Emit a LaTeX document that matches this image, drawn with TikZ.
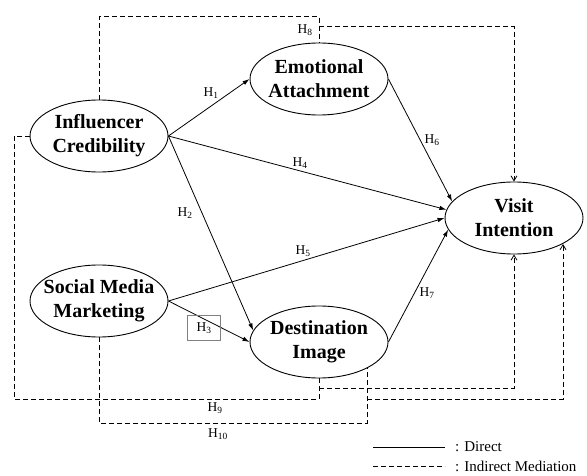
\documentclass[tikz,border=0pt]{standalone}
\usepackage{fontspec}
\setmainfont{Liberation Serif}
\usetikzlibrary{arrows.meta, shapes.geometric, calc}

\begin{document}
\begin{tikzpicture}[
  x=1pt, y=-1pt,
  font=\fontsize{13.5}{16}\selectfont,
  >={Latex[length=7pt, width=4.5pt]},
  construct/.style={draw, line width=0.9pt, ellipse, minimum width=138pt,
                    minimum height=72pt, inner xsep=-20pt, inner ysep=-10pt,
                    align=center, font=\fontsize{20}{24}\selectfont\bfseries},
  arr/.style={->, line width=0.8pt},
  med/.style={line width=0.8pt, dash pattern=on 5pt off 3pt},
  medarr/.style={med, -{Straight Barb[length=5pt, width=6pt]}},
  hyp/.style={inner sep=1pt},
  legend/.style={anchor=west, inner sep=0pt, font=\fontsize{15}{17}\selectfont},
  ]
\useasboundingbox (0,0) rectangle (587,476);
% ---- constructs
\node[construct] (ic)  at (99,136)  {Influencer\\Credibility};
\node[construct] (smm) at (99,301)  {Social Media\\Marketing};
\node[construct] (ea)  at (319,79)  {Emotional\\Attachment};
\node[construct] (di)  at (319,342) {Destination\\Image};
\node[construct] (vi)  at (514,218) {Visit\\Intention};
% ---- direct paths
\draw[arr] (ic.east) -- (ea.west);
\draw[arr] (ic.east) -- (vi.173);
\draw[arr] (ic.east) -- (di.170);
\draw[arr] (smm.east) -- (vi.west);
\draw[arr] (smm.east) -- (di.west);
\draw[arr] (ea.east) -- (vi.165);
\draw[arr] (di.east) -- (vi.190);
% ---- hypothesis labels
\node[hyp] (h1) at (211,93)  {H\textsubscript{1}};
\node[hyp] (h2) at (185,213) {H\textsubscript{2}};
\node[hyp, draw=gray, minimum width=33pt, minimum height=25pt] (h3) at (204,328) {H\textsubscript{3}};
\node[hyp] (h4) at (300,163) {H\textsubscript{4}};
\node[hyp] (h5) at (303,251) {H\textsubscript{5}};
\node[hyp] (h6) at (432,140) {H\textsubscript{6}};
\node[hyp] (h7) at (427,293) {H\textsubscript{7}};
% ---- mediation: via emotional attachment
\draw[med] (ic.north) |- ($(ea.north)+(0,-26)$) -- (ea.north);
\coordinate (h8j) at ($(ea.north)+(0,-16)$);
\draw[medarr] (h8j) -| (vi.north);
\node[hyp] (h8) at (305,30) {H\textsubscript{8}};
% ---- mediation: via destination image
\draw[med] (ic.west) -| (14,399) -| (di.south);
\coordinate (h9j) at ($(di.south)+(0,10)$);
\draw[medarr] (h9j) -| (vi.south);
\node[hyp] (h9) at (215,408) {H\textsubscript{9}};
\coordinate (dir) at ($(di.center)+(48,26)$);
\draw[med] (smm.south) |- ($(dir)+(0,55)$) -- (dir);
\coordinate (h10j) at ($(dir)+(0,31)$);
\coordinate (vir) at ($(vi.center)+(49,26)$);
\draw[medarr] (h10j) -| (vir);
\node[hyp] (h10) at (218,434) {H\textsubscript{10}};
% ---- legend
\coordinate (ls1) at (373,447);
\coordinate (ls2) at (445,447);
\coordinate (lm1) at (373,466);
\coordinate (lm2) at (445,466);
\draw[line width=0.8pt] (ls1) -- (ls2);
\draw[med] (lm1) -- (lm2);
\node[legend] (ldirect) at (455,447) {: Direct};
\node[legend] (lmed) at (455,466) {: Indirect Mediation};
\end{tikzpicture}
\end{document}
